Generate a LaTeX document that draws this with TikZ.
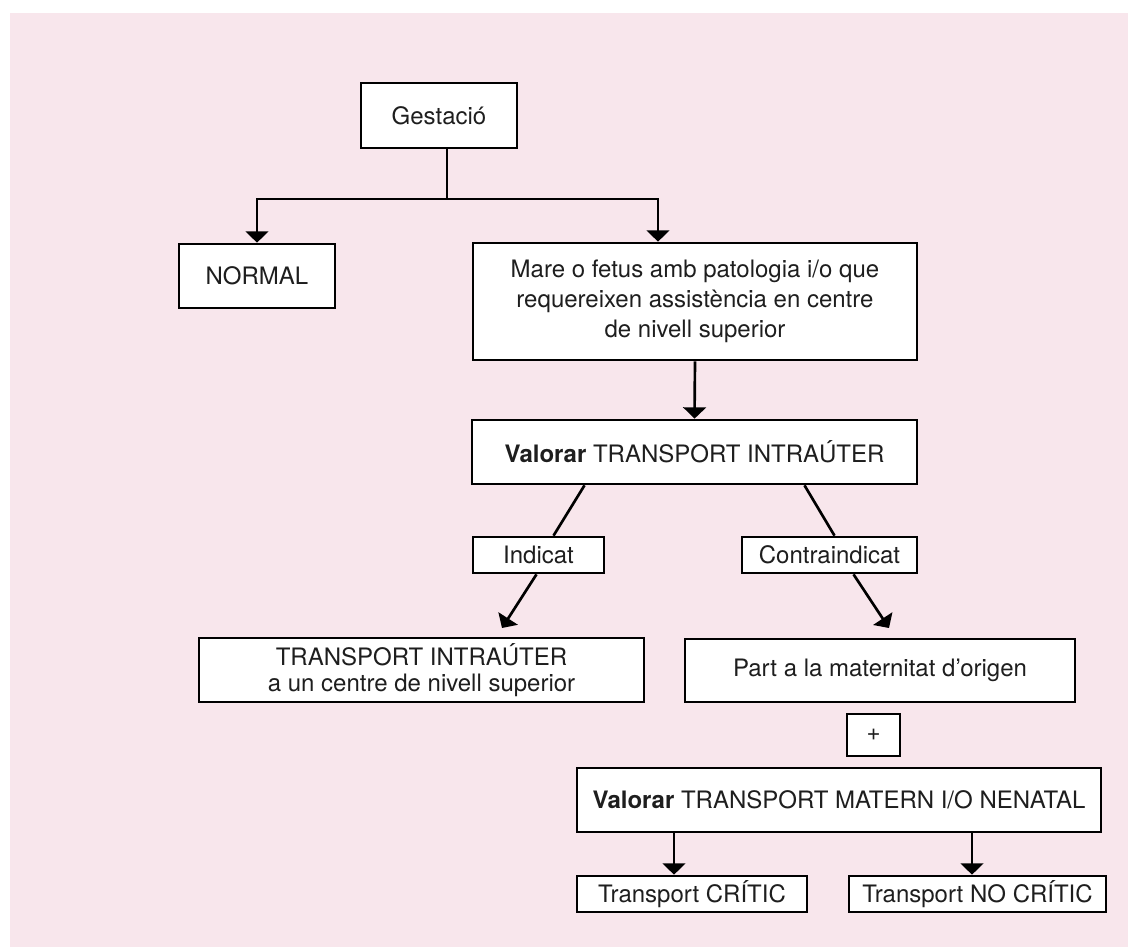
\documentclass[tikz,border=0pt]{standalone}
\usepackage{fontspec}
\setmainfont{TeX Gyre Heros}
\usetikzlibrary{arrows.meta,calc}

\definecolor{bgpink}{RGB}{248,230,236}
\definecolor{txtgrey}{RGB}{30,30,30}

\tikzset{every picture/.style={line width=2pt}}
\tikzset{
  box/.style={draw, fill=white, line width=2pt, inner sep=0pt, align=center, text=txtgrey, font=\fontsize{18}{22.5}\selectfont},
  arr/.style={-{Triangle[width=17pt,length=8.5pt]}},
}

\begin{document}
\begin{tikzpicture}[x=0.75pt,y=0.75pt,yscale=-1,xscale=1]
\useasboundingbox (0,0) rectangle (1128,947);
%Shape: Rectangle [background]
\fill[bgpink] (10,13) rectangle (1128,947);

% Text Node
\node[box, minimum width=117pt, minimum height=48.75pt] (gest) at (439,115.5) {Gestació};
% Text Node
\node[box, minimum width=117pt, minimum height=48pt] (normal) at (257,276) {NORMAL};
% Text Node
\node[box, minimum width=333pt, minimum height=87.75pt] (mare) at (695,301.5) {Mare o fetus amb patologia i/o que\\ requereixen assistència en centre\\ de nivell superior};
% Text Node
\node[box, minimum width=333.75pt, minimum height=48pt] (valIntra) at (694.5,452) {\bfseries Valorar\mdseries{} TRANSPORT INTRAÚTER};
% Text Node
\node[box, minimum width=98.25pt, minimum height=27pt] (indicat) at (538.5,555) {Indicat};
% Text Node
\node[box, minimum width=131.25pt, minimum height=27pt] (contra) at (829.5,555) {Contraindicat};
% Text Node
\node[box, minimum width=333.75pt, minimum height=48pt, font=\fontsize{18}{19.5}\selectfont] (transIntra) at (421.5,670) {TRANSPORT INTRAÚTER\\ a un centre de nivell superior};
% Text Node
\node[box, minimum width=292.5pt, minimum height=47.25pt] (part) at (880,670.5) {Part a la maternitat d’origen};
% Text Node
\node[box, minimum width=39.75pt, minimum height=31.5pt] (plus) at (873.5,735) {+};
% Text Node
\node[box, minimum width=393pt, minimum height=48pt] (valMat) at (839,800) {\bfseries Valorar\mdseries{} TRANSPORT MATERN I/O NENATAL};
% Text Node
\node[box, minimum width=172.5pt, minimum height=27pt] (critic) at (692,894) {Transport CRÍTIC};
% Text Node
\node[box, minimum width=192.75pt, minimum height=27pt] (nocritic) at (977.5,894) {Transport NO CRÍTIC};

%Straight Lines [gestacio split]
\coordinate (split) at (447,199);
\draw (split |- gest.south) -- (split);
\draw[arr] (split) -| (normal.north);
\draw[arr] (split) -| ($(mare.north)+(-37,0)$);
%Straight Lines
\draw[arr] (mare.south) -- (valIntra.north);
%Straight Lines
\draw ($(valIntra.south)+(-110,0)$) -- ($(indicat.north)+(15,0)$);
\draw ($(valIntra.south)+(110,0)$) -- ($(contra.north)+(5,0)$);
%Straight Lines
\coordinate (tipL) at (502,628);
\coordinate (tipR) at (889,628);
\draw[arr] ($(indicat.south)+(-2,0)$) -- (tipL);
\draw[arr] ($(contra.south)+(24,0)$) -- (tipR);
%Straight Lines
\coordinate (mL) at ($(valMat.south)+(-165,0)$);
\coordinate (mR) at ($(valMat.south)+(133,0)$);
\draw[arr] (mL) -- (mL |- critic.north);
\draw[arr] (mR) -- (mR |- nocritic.north);

\end{tikzpicture}
\end{document}
